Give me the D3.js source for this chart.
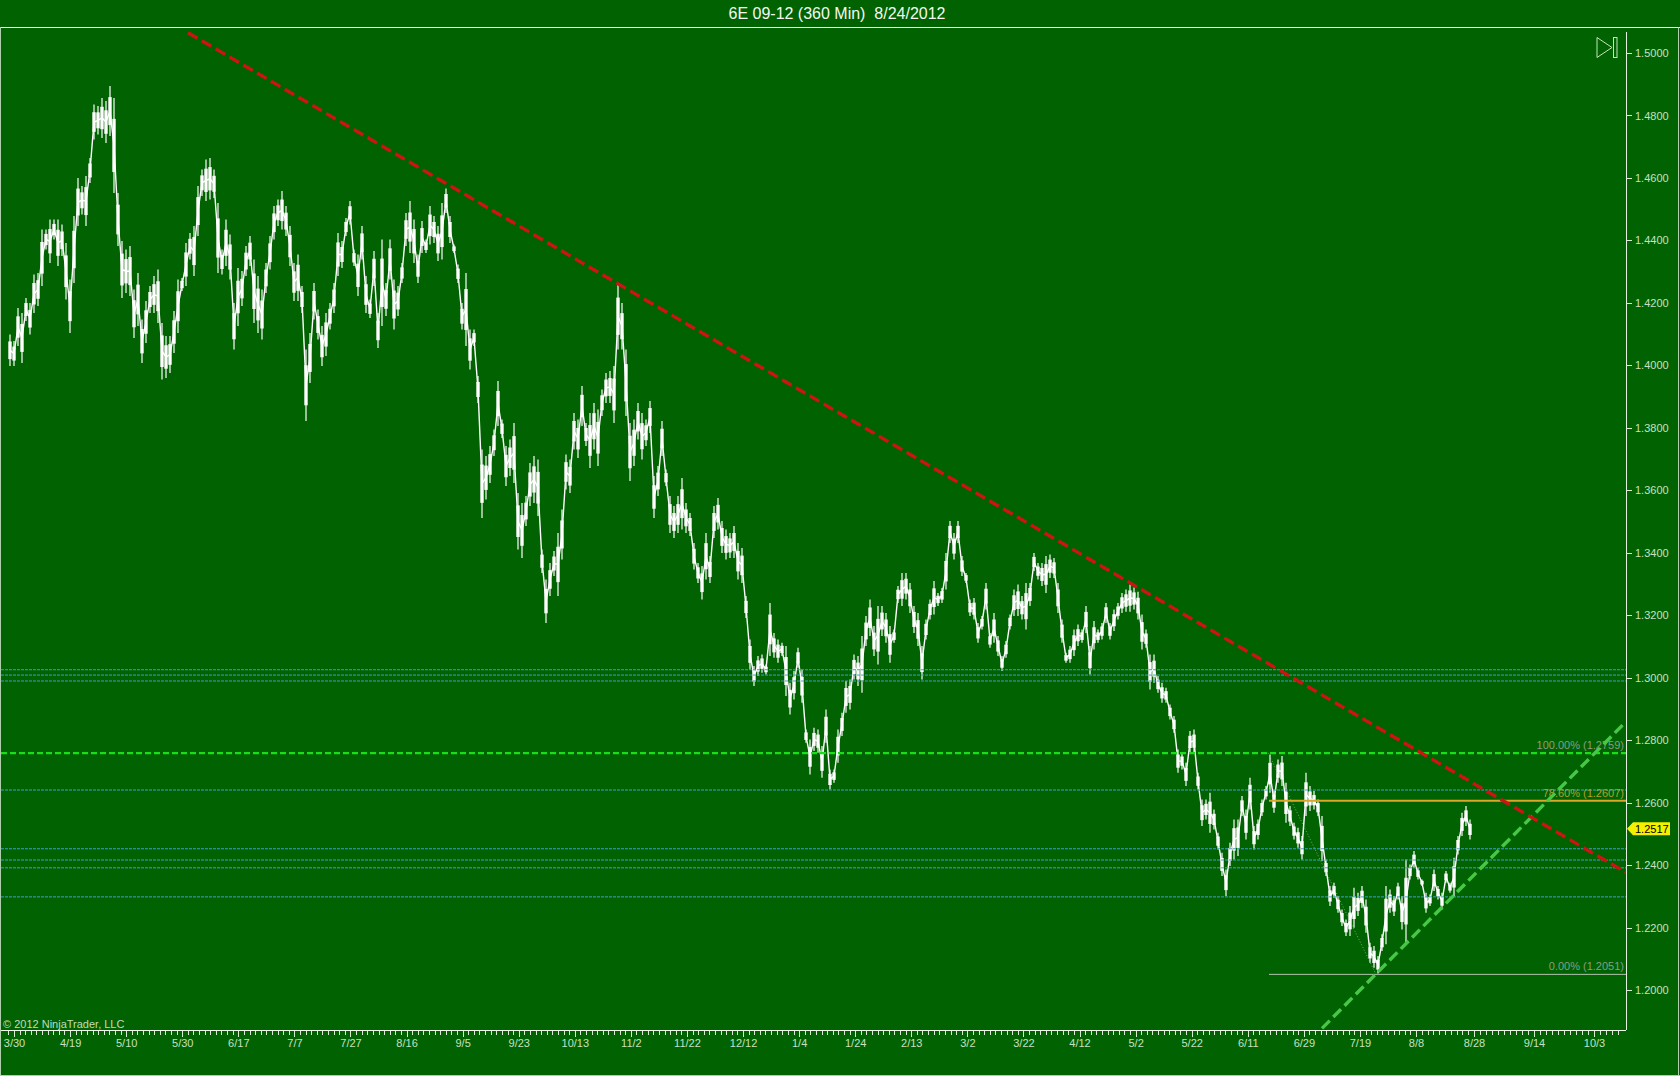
<!DOCTYPE html>
<html>
<head>
<meta charset="utf-8">
<title>6E 09-12 (360 Min)</title>
<script src="https://cdn.jsdelivr.net/npm/d3@7"></script>
<style>
  html, body { margin: 0; padding: 0; background: #006200; }
  svg { display: block; font-family: "Liberation Sans", Arial, sans-serif; }
  .axis path { display: none; }
  .axis line { stroke: #d8ecd4; shape-rendering: crispEdges; }
  .axis text { fill: #c8e0c0; font-size: 11px; font-family: "Liberation Sans", Arial, sans-serif; }
</style>
</head>
<body>
<svg id="chart" width="1680" height="1076"></svg>
<script>
var title = "6E 09-12 (360 Min)  8/24/2012";
var copyright = "\u00a9 2012 NinjaTrader, LLC";

// date labels, every tenth tick on the bottom axis
var dateLabels = ["3/30","4/19","5/10","5/30","6/17","7/7","7/27","8/16","9/5","9/23","10/13","11/2",
    "11/22","12/12","1/4","1/24","2/13","3/2","3/22","4/12","5/2","5/22","6/11","6/29","7/19","8/8",
    "8/28","9/14","10/3"];
var priceTicks = [1.20,1.22,1.24,1.26,1.28,1.30,1.32,1.34,1.36,1.38,1.40,1.42,1.44,1.46,1.48,1.50];

// high and low of the bars in pips, sampled by eye along the chart
var barHigh = [14099,14078,14184,14168,14216,14200,14291,14296,14435,14435,14467,14467,14467,14451,14392,14275,
    14478,14600,14574,14606,14664,14835,14830,14856,14846,14894,14856,14552,14398,14371,14382,14243,14296,14147,
    14206,14254,14286,14307,14136,14094,14094,14174,14275,14280,14392,14424,14446,14574,14627,14659,14664,14627,
    14520,14371,14467,14419,14200,14312,14302,14382,14414,14339,14286,14243,14328,14414,14510,14531,14558,14510,
    14446,14328,
    14355,14254,14051,14104,14264,14179,14126,14168,14200,14264,14424,14398,14472,14526,14371,14355,14446,14286,
    14211,14366,14168,14403,14264,14403,14275,14254,14328,14488,14526,14467,14355,14462,14403,14510,14478,14446,
    14520,14566,14478,14387,14323,14200,14296,14115,14115,13966,
    13731,13710,13742,13795,13950,13827,13742,13763,13816,13592,13560,13582,13688,13710,13699,13411,13315,13368,
    13406,13464,13539,13715,13699,13848,13827,13934,13816,13848,13880,13859,13923,13976,13982,13998,14264,14200,
    14051,13816,13827,13880,13848,13827,13886,13646,13678,13822,13667,13582,13550,13582,13640,13560,
    13528,13432,13368,13358,13464,13390,13550,13576,13502,13475,13464,13486,13432,13416,13262,13123,13038,13070,
    13075,13043,13240,13144,13123,13112,13102,12984,13022,13096,13027,12835,12803,12840,12835,12782,12899,12707,
    12707,12835,12888,12990,12995,13075,13070,13134,13198,13251,13166,13230,13230,13208,13166,13155,13294,13336,
    13336,13304,13230,13208,13102,13187,13251,13310,13272,13288,13400,13502,13464,13502,13390,13336,13251,13256,
    13176,13198,13304,13144,13208,13134,13070,13118,13203,13283,13299,13262,13304,13304,13400,13368,13368,13390,
    13395,13384,13304,13187,13080,13102,13155,13171,13155,13230,13102,13182,13155,13176,13240,13176,13219,13240,
    13272,13283,13299,13289,13276,13203,
    13155,13075,13075,13006,12984,12968,12915,12878,12771,12760,12728,12830,12835,12696,12611,12611,12632,12579,
    12504,12440,12387,12472,12547,12547,12622,12579,12680,12526,12547,12611,12654,12755,12643,12739,12750,12664,
    12590,12536,12520,12494,12696,
    12654,12638,12611,12558,12419,12334,12344,12302,12259,12227,12270,12328,12312,12334,12291,12152,12142,12110,
    12179,12334,12323,12302,12344,12302,12419,12403,12446,12392,12355,12312,12307,12387,12334,12312,12382,12344,
    12424,12494,12568,12590,12547];
var barLow = [13998,13998,14062,14008,14142,14099,14168,14190,14254,14371,14328,14403,14318,14350,14211,14104,
    14264,14446,14483,14446,14584,14723,14739,14728,14712,14734,14552,14382,14216,14232,14222,14088,14126,14008,
    14072,14168,14168,14136,13955,13960,13976,14040,14104,14238,14254,14339,14286,14414,14542,14526,14531,14536,
    14296,14291,14318,14275,14051,14126,14190,14286,14318,14136,14104,14083,14232,14307,14403,14446,14435,14414,
    14318,14206,
    14206,14168,13822,13944,14147,14083,13998,14030,14115,14168,14286,14312,14414,14451,14318,14222,14339,14168,
    14152,14254,14056,14126,14158,14275,14115,14158,14264,14382,14360,14328,14264,14360,14360,14387,14392,14334,
    14339,14488,14392,14360,14264,14115,14062,13987,14062,13880,
    13512,13571,13624,13710,13806,13768,13614,13646,13624,13411,13384,13486,13550,13560,13518,13336,13176,13262,
    13326,13262,13379,13603,13592,13731,13704,13806,13742,13672,13731,13678,13838,13880,13880,13816,14051,14051,
    13838,13630,13678,13763,13699,13742,13784,13512,13582,13710,13614,13464,13448,13464,13475,13464,
    13454,13347,13304,13251,13315,13304,13448,13475,13400,13379,13384,13384,13315,13304,13192,13027,12974,13006,
    13016,13011,13070,13064,13048,13070,12942,12883,12931,13032,12920,12792,12691,12766,12760,12680,12792,12643,
    12664,12728,12814,12888,12899,12995,12974,12952,13102,13134,13070,13043,13134,13112,13048,13112,13240,13230,
    13251,13208,13144,13102,12995,13123,13187,13203,13230,13240,13283,13432,13379,13432,13326,13304,13198,13187,
    13112,13155,13219,13096,13112,13070,13022,13064,13155,13198,13198,13187,13155,13230,13342,13315,13294,13272,
    13320,13320,13208,13112,13048,13048,13070,13102,13112,13144,13011,13091,13112,13123,13176,13123,13150,13187,
    13208,13212,13212,13219,13187,13091,
    13096,12963,12984,12952,12920,12920,12867,12824,12696,12707,12654,12760,12760,12643,12526,12547,12504,12515,
    12451,12366,12302,12398,12419,12430,12558,12483,12579,12451,12483,12558,12611,12632,12568,12664,12654,12536,
    12526,12483,12456,12419,12558,
    12574,12579,12558,12414,12366,12270,12296,12248,12206,12174,12174,12200,12238,12264,12184,12088,12072,12054,
    12126,12147,12248,12238,12291,12195,12152,12355,12392,12355,12334,12248,12270,12318,12291,12259,12344,12312,
    12302,12435,12494,12526,12483];

// levels drawn across the whole chart
var blueLevels = [1.3026,1.3009,1.2990,1.2641,1.2453,1.2417,1.2392,1.2299];
var greenLevel = 1.2759;
var lastPrice = 1.2517;

// fibonacci levels start at the swing high bar
var fibStartBar = 314.75;
var fibLevels = [
    {label: "100.00% (1.2759)", price: 1.2759, color: "#8a9c86", line: null, width: 0},
    {label: "78.60% (1.2607)", price: 1.2607, color: "#b0a030", line: "#dca628", width: 2},
    {label: "0.00% (1.2051)", price: 1.2051, color: "#8a9c86", line: "#b4c4b0", width: 1}
];

// trend lines as [bar, price] pairs
var redTrend = [[44.5, 1.5065], [404, 1.2377]];
var greenTrend = [[328, 1.1878], [404, 1.2860]];
var fibConnector = [[314.5, 1.2760], [341.5, 1.2051]];

var width = 1680, height = 1076;
var plotRight = 1626, plotTop = 27, plotBottom = 1030;
var svg = d3.select("#chart");

var y = d3.scaleLinear().domain([1.5, 1.2]).range([53, 990.3]);
var xBar = d3.scaleLinear().domain([0, barHigh.length - 1]).range([10, 1470]);
// the tail of the axis is in the future, its labels sit a bit wider apart
var xTick = d3.scaleLinear().domain([0, 25, 26, 27, 28, 29]).range([14, 1416, 1474, 1534, 1594, 1654]);

svg.append("rect").attr("width", width).attr("height", height).attr("fill", "#006200");

svg.append("text").attr("x", 837).attr("y", 19).attr("text-anchor", "middle")
    .attr("fill", "#f4f8f0").attr("font-size", "16px").attr("xml:space", "preserve").text(title);

// thin line through the bar middles so the price runs on without gaps
var midLine = d3.line()
    .x(function(d, i) { return xBar(i); })
    .y(function(d, i) { return y((d + barLow[i]) / 20000); });
svg.append("path").attr("d", midLine(barHigh)).attr("fill", "none")
    .attr("stroke", "#fff").attr("stroke-width", 1.4);

// bars: thin high-low line with a thicker middle
var bars = svg.append("g").attr("stroke", "#fff");
bars.selectAll("line.range").data(barHigh).enter().append("line")
    .attr("class", "range")
    .attr("x1", function(d, i) { return xBar(i); })
    .attr("x2", function(d, i) { return xBar(i); })
    .attr("y1", function(d) { return y(d / 10000); })
    .attr("y2", function(d, i) { return y(barLow[i] / 10000); })
    .attr("stroke-width", 1.2);
bars.selectAll("line.body").data(barHigh).enter().append("line")
    .attr("class", "body")
    .attr("x1", function(d, i) { return xBar(i); })
    .attr("x2", function(d, i) { return xBar(i); })
    .attr("y1", function(d, i) { return y((d - (d - barLow[i]) * 0.22) / 10000); })
    .attr("y2", function(d, i) { return y((barLow[i] + (d - barLow[i]) * 0.22) / 10000); })
    .attr("stroke-width", 3.4);

// horizontal levels
svg.append("g").selectAll("line").data(blueLevels).enter().append("line")
    .attr("x1", 1).attr("x2", plotRight)
    .attr("y1", function(d) { return y(d); }).attr("y2", function(d) { return y(d); })
    .attr("stroke", "#3c9fd2").attr("stroke-width", 1).attr("stroke-dasharray", "3,1");

svg.append("line").attr("x1", 1).attr("x2", plotRight)
    .attr("y1", y(greenLevel)).attr("y2", y(greenLevel))
    .attr("stroke", "#18e018").attr("stroke-width", 2.4).attr("stroke-dasharray", "6,3");

var line = d3.line().x(function(d) { return xBar(d[0]); }).y(function(d) { return y(d[1]); });

svg.append("path").attr("d", line(fibConnector)).attr("fill", "none")
    .attr("stroke", "#a8c4a4").attr("stroke-width", 0.7).attr("stroke-dasharray", "1,2");

var fib = svg.append("g");
fib.selectAll("line").data(fibLevels.filter(function(d) { return d.line; })).enter().append("line")
    .attr("x1", xBar(fibStartBar)).attr("x2", plotRight)
    .attr("y1", function(d) { return y(d.price); }).attr("y2", function(d) { return y(d.price); })
    .attr("stroke", function(d) { return d.line; })
    .attr("stroke-width", function(d) { return d.width; });
fib.selectAll("text").data(fibLevels).enter().append("text")
    .attr("x", 1624).attr("y", function(d) { return y(d.price) - 4; })
    .attr("text-anchor", "end").attr("font-size", "11px")
    .attr("fill", function(d) { return d.color; })
    .text(function(d) { return d.label; });

svg.append("path").attr("d", line(greenTrend)).attr("fill", "none")
    .attr("stroke", "#46c846").attr("stroke-width", 3.4).attr("stroke-dasharray", "11,5");
svg.append("path").attr("d", line(redTrend)).attr("fill", "none")
    .attr("stroke", "#cc1414").attr("stroke-width", 3.4).attr("stroke-dasharray", "11,5");

// axes
var minorTicks = d3.range(-0.1, 28.45, 0.1).map(function(d) { return Math.round(d * 10) / 10; });
var xAxis = d3.axisBottom(xTick).tickValues(minorTicks).tickSize(5).tickSizeOuter(0)
    .tickFormat(function(d) { return Number.isInteger(d) && d >= 0 ? dateLabels[d] : ""; });
var gx = svg.append("g").attr("class", "axis").attr("transform", "translate(0," + plotBottom + ")").call(xAxis);
gx.selectAll(".tick text").attr("y", 9).attr("dy", "0.71em");
gx.selectAll(".tick").filter(function(d) { return Number.isInteger(d); }).select("line").attr("y2", 7);

var yAxis = d3.axisRight(y).tickValues(priceTicks).tickSize(6).tickSizeOuter(0).tickFormat(d3.format(".4f"));
var gy = svg.append("g").attr("class", "axis").attr("transform", "translate(" + plotRight + ",0)").call(yAxis);
gy.selectAll(".tick text").attr("x", 9);

// frame and axis lines
var frame = svg.append("g").attr("stroke-width", 1).attr("shape-rendering", "crispEdges");
frame.append("line").attr("x1", 0).attr("x2", width).attr("y1", plotTop).attr("y2", plotTop).attr("stroke", "#f0f8ec");
frame.append("line").attr("x1", 1).attr("x2", plotRight).attr("y1", plotBottom).attr("y2", plotBottom).attr("stroke", "#f0f8ec");
frame.append("line").attr("x1", plotRight).attr("x2", plotRight).attr("y1", 32).attr("y2", plotBottom).attr("stroke", "#e4f0e0");
frame.append("line").attr("x1", 0.5).attr("x2", 0.5).attr("y1", plotTop).attr("y2", height).attr("stroke", "#b0d0ac");
frame.append("line").attr("x1", width - 1.5).attr("x2", width - 1.5).attr("y1", plotTop).attr("y2", height).attr("stroke", "#b0d0ac");
frame.append("line").attr("x1", 0).attr("x2", width).attr("y1", height - 0.5).attr("y2", height - 0.5).attr("stroke", "#b0d0ac");

svg.append("text").attr("x", 3).attr("y", 1028).attr("font-size", "11px").attr("fill", "#c0dcbc").text(copyright);

// last price tag
var tagY = y(lastPrice);
svg.append("path")
    .attr("d", "M1627," + tagY + "L1633," + (tagY - 6.5) + "H1670V" + (tagY + 6.5) + "H1633Z")
    .attr("fill", "#f6f000");
svg.append("text").attr("x", 1635).attr("y", tagY + 4).attr("font-size", "11px").attr("fill", "#000").text(d3.format(".4f")(lastPrice));

// scroll to last bar button
var btn = svg.append("g").attr("fill", "none").attr("stroke", "#c4e4c0").attr("stroke-width", 1);
btn.append("path").attr("d", "M1597,37.5V57.5L1612,47.5Z");
btn.append("rect").attr("x", 1613.5).attr("y", 37.5).attr("width", 3.5).attr("height", 20);
</script>
</body>
</html>
